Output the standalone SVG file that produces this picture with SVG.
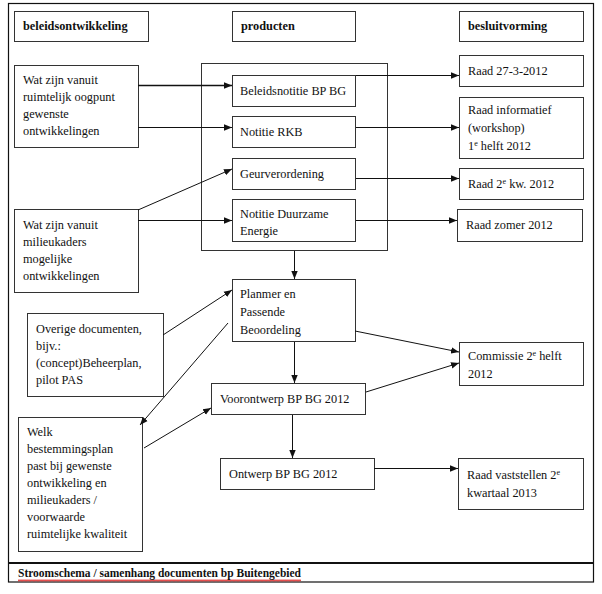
<svg xmlns="http://www.w3.org/2000/svg" width="602" height="594" viewBox="0 0 602 594">
<style>
.b{fill:#fff;stroke:#333;stroke-width:1}
.t{font-family:"Liberation Serif","Times New Roman",serif;font-size:12.3px;fill:#111}
.h{font-weight:bold}
.c line,.c path{stroke:#111;stroke-width:1;fill:none}
.sup{font-size:8px}
</style>
<defs>
<marker id="a" viewBox="0 0 8 8" refX="8" refY="4" markerWidth="8" markerHeight="8" markerUnits="userSpaceOnUse" orient="auto">
<path d="M0,0.8 L8,4 L0,7.2 z" fill="#111"/>
</marker>
<pattern id="wave" width="4" height="3" patternUnits="userSpaceOnUse">
<path d="M0,2.5 L1,0.5 L2,2.5 L3,0.5 L4,2.5" stroke="#d22" stroke-width="0.8" fill="none"/>
</pattern>
</defs>
<rect x="0" y="0" width="602" height="594" fill="#fff"/>
<rect x="8.5" y="3.5" width="585" height="578.5" fill="none" stroke="#111" stroke-width="1.2"/>
<line x1="8" y1="563" x2="594" y2="563" stroke="#111" stroke-width="2"/>

<g id="hdr-beleid"><rect class="b" x="14.5" y="11.5" width="134" height="30"/><text class="t h" x="23" y="30">beleidsontwikkeling</text></g>
<g id="hdr-producten"><rect class="b" x="232.5" y="11.5" width="123" height="30"/><text class="t h" x="241" y="30">producten</text></g>
<g id="hdr-besluit"><rect class="b" x="459.5" y="11.5" width="124" height="30"/><text class="t h" x="468" y="30">besluitvorming</text></g>

<g id="container"><rect x="201.5" y="63.5" width="186" height="187" fill="none" stroke="#333"/></g>

<g id="ruimtelijk"><rect class="b" x="14.5" y="65.5" width="124" height="82"/>
<text class="t" x="23"><tspan x="23" y="84">Wat zijn vanuit</tspan><tspan x="23" y="101">ruimtelijk oogpunt</tspan><tspan x="23" y="118">gewenste</tspan><tspan x="23" y="135">ontwikkelingen</tspan></text></g>

<g id="beleidsnotitie"><rect class="b" x="232.5" y="75.5" width="123" height="31"/><text class="t" x="240" y="95">Beleidsnotitie BP BG</text></g>
<g id="rkb"><rect class="b" x="232.5" y="116.5" width="123" height="31"/><text class="t" x="240" y="136">Notitie RKB</text></g>
<g id="geur"><rect class="b" x="232.5" y="158.5" width="123" height="31"/><text class="t" x="240" y="178">Geurverordening</text></g>
<g id="duurzaam"><rect class="b" x="232.5" y="199.5" width="123" height="42"/><text class="t"><tspan x="240" y="218">Notitie Duurzame</tspan><tspan x="240" y="235">Energie</tspan></text></g>

<g id="raad1"><rect class="b" x="459.5" y="55.5" width="124" height="31"/><text class="t" x="468" y="75">Raad 27-3-2012</text></g>
<g id="raad-info"><rect class="b" x="459.5" y="97.5" width="124" height="61"/><text class="t"><tspan x="468" y="114">Raad informatief</tspan><tspan x="468" y="132">(workshop)</tspan><tspan x="468" y="150">1</tspan><tspan class="sup" dy="-4">e</tspan><tspan dy="4"> helft 2012</tspan></text></g>
<g id="raad2"><rect class="b" x="459.5" y="168.5" width="124" height="31"/><text class="t"><tspan x="468" y="188">Raad 2</tspan><tspan class="sup" dy="-4">e</tspan><tspan dy="4"> kw. 2012</tspan></text></g>
<g id="raad-zomer"><rect class="b" x="457.5" y="209.5" width="125" height="32"/><text class="t" x="466" y="229">Raad zomer 2012</text></g>

<g id="milieu"><rect class="b" x="14.5" y="209.5" width="124" height="83"/>
<text class="t"><tspan x="23" y="229">Wat zijn vanuit</tspan><tspan x="23" y="246">milieukaders</tspan><tspan x="23" y="263">mogelijke</tspan><tspan x="23" y="280">ontwikkelingen</tspan></text></g>

<g id="planmer"><rect class="b" x="232.5" y="279.5" width="123" height="62"/><text class="t"><tspan x="240" y="298">Planmer en</tspan><tspan x="240" y="316">Passende</tspan><tspan x="240" y="334">Beoordeling</tspan></text></g>

<g id="overige"><rect class="b" x="27.5" y="313.5" width="136" height="83"/><text class="t"><tspan x="36" y="333">Overige documenten,</tspan><tspan x="36" y="350">bijv.:</tspan><tspan x="36" y="367">(concept)Beheerplan,</tspan><tspan x="36" y="384">pilot PAS</tspan></text></g>

<g id="commissie"><rect class="b" x="459.5" y="342.5" width="124" height="43"/><text class="t"><tspan x="468" y="360">Commissie 2</tspan><tspan class="sup" dy="-4">e</tspan><tspan dy="4"> helft</tspan><tspan x="468" y="378">2012</tspan></text></g>

<g id="voorontwerp"><rect class="b" x="211.5" y="383.5" width="154" height="31"/><text class="t" x="220" y="403">Voorontwerp BP BG 2012</text></g>

<g id="welk"><rect class="b" x="18.5" y="417.5" width="124" height="134"/><text class="t"><tspan x="27" y="436">Welk</tspan><tspan x="27" y="453">bestemmingsplan</tspan><tspan x="27" y="470">past bij gewenste</tspan><tspan x="27" y="487">ontwikkeling en</tspan><tspan x="27" y="504">milieukaders /</tspan><tspan x="27" y="521">voorwaarde</tspan><tspan x="27" y="538">ruimtelijke kwaliteit</tspan></text></g>

<g id="ontwerp"><rect class="b" x="220.5" y="458.5" width="154" height="31"/><text class="t" x="229" y="478">Ontwerp BP BG 2012</text></g>

<g id="raad-vast"><rect class="b" x="458.5" y="458.5" width="125" height="51"/><text class="t"><tspan x="467" y="479">Raad vaststellen 2</tspan><tspan class="sup" dy="-4">e</tspan><tspan x="467" y="497">kwartaal 2013</tspan></text></g>

<g id="connectors" class="c">
<line x1="138" y1="85.5" x2="232" y2="85.5" marker-end="url(#a)" style="stroke-width:1.6"/>
<line x1="138" y1="127.5" x2="232" y2="127.5" marker-end="url(#a)"/>
<line x1="138" y1="210" x2="232" y2="169" marker-end="url(#a)"/>
<line x1="138" y1="220.5" x2="232" y2="220.5" marker-end="url(#a)"/>
<line x1="356" y1="75.5" x2="459" y2="75.5" marker-end="url(#a)"/>
<line x1="356" y1="127.5" x2="459" y2="127.5" marker-end="url(#a)"/>
<line x1="356" y1="178.5" x2="459" y2="178.5" marker-end="url(#a)"/>
<line x1="356" y1="220.5" x2="457" y2="220.5" marker-end="url(#a)"/>
<line x1="294.5" y1="251" x2="294.5" y2="279" marker-end="url(#a)"/>
<line x1="163" y1="335" x2="232" y2="290" marker-end="url(#a)"/>
<line x1="228" y1="323" x2="140" y2="425" marker-end="url(#a)"/>
<line x1="355" y1="331" x2="459" y2="352" marker-end="url(#a)"/>
<line x1="294.5" y1="342" x2="294.5" y2="383" marker-end="url(#a)"/>
<line x1="366" y1="392" x2="459" y2="363" marker-end="url(#a)"/>
<line x1="144" y1="448" x2="211" y2="408" marker-end="url(#a)"/>
<line x1="292.5" y1="415" x2="292.5" y2="458" marker-end="url(#a)"/>
<line x1="374" y1="468.5" x2="458" y2="468.5" marker-end="url(#a)"/>
</g>

<g id="caption">
<rect x="18" y="579" width="283" height="3" fill="url(#wave)"/>
<text class="t h" x="18" y="577" textLength="283" lengthAdjust="spacingAndGlyphs">Stroomschema / samenhang documenten bp Buitengebied</text>
</g>
</svg>
